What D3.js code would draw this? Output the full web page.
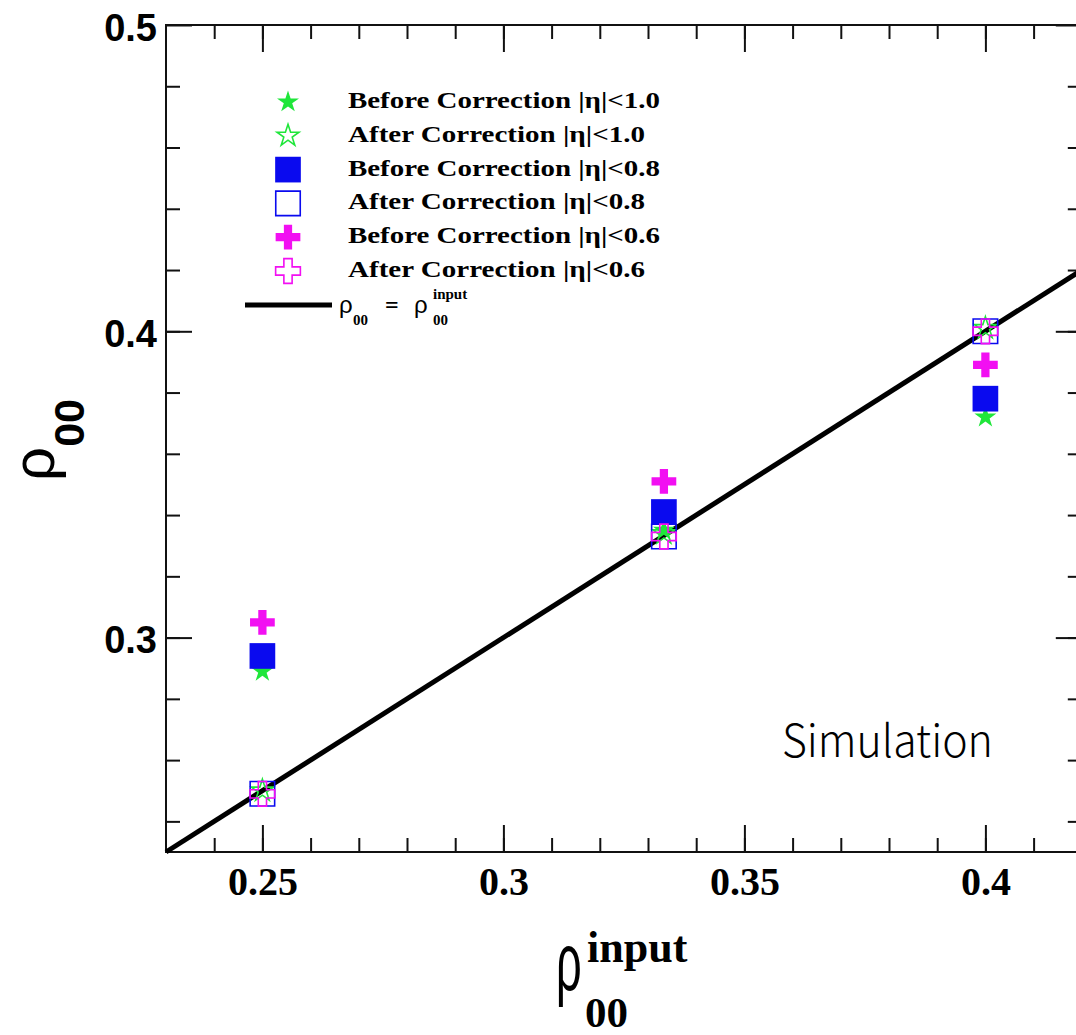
<!DOCTYPE html>
<html>
<head>
<meta charset="utf-8">
<script src="https://cdn.jsdelivr.net/npm/d3@7"></script>
<style>
  body { margin: 0; background: #fff; }
  svg { display: block; background: #fff; }
  .serif { font-family: 'Liberation Serif', 'Times New Roman', serif; font-weight: bold; }
  .sans { font-family: 'Liberation Sans', Arial, sans-serif; }
</style>
</head>
<body>
<svg id="chart" width="1076" height="1035"></svg>
<script>
// data
const inputRho = [0.25, 0.3333, 0.4];
const before10 = [0.289, 0.335, 0.372];
const after10 = [0.250, 0.334, 0.401];
const before08 = [0.294, 0.341, 0.378];
const after08 = [0.249, 0.333, 0.400];
const before06 = [0.305, 0.351, 0.389];
const after06 = [0.249, 0.333, 0.400];
const seriesLabels = [
  'Before Correction |η|<1.0',
  'After Correction |η|<1.0',
  'Before Correction |η|<0.8',
  'After Correction |η|<0.8',
  'Before Correction |η|<0.6',
  'After Correction |η|<0.6'
];
const xMajorTicks = [0.25, 0.3, 0.35, 0.4];
const yMajorTicks = [0.3, 0.4, 0.5];
const identityRange = [0.23, 0.42];

(function() {
  const svg = d3.select('#chart');
  const left = 166, top = 25, bottom = 852, right = 1081.8;

  const x = d3.scaleLinear().domain([0.23, 0.42]).range([left, right]);
  const y = d3.scaleLinear().domain([0.23, 0.5]).range([bottom, top]);

  const xMinor = d3.range(24, 42).map(d => d / 100);
  const yMinor = d3.range(12, 25).map(d => d / 50);

  const green = '#1fe63a', blue = '#0a0aef', magenta = '#f20ff2';
  const styles = [
    {values: before10, type: d3.symbolStar, size: 150, fill: green, stroke: 'none'},
    {values: after10, type: d3.symbolStar, size: 150, fill: 'none', stroke: green},
    {values: before08, type: d3.symbolSquare, size: 660, fill: blue, stroke: 'none'},
    {values: after08, type: d3.symbolSquare, size: 600, fill: 'none', stroke: blue},
    {values: before06, type: d3.symbolCross, size: 340, fill: magenta, stroke: 'none'},
    {values: after06, type: d3.symbolCross, size: 340, fill: 'none', stroke: magenta}
  ];

  // axes: ticks pointing inward on all four sides
  function styleAxis(g) {
    g.select('.domain').remove();
    g.selectAll('line').attr('stroke', '#111').attr('stroke-width', 2);
  }

  svg.append('g').attr('transform', 'translate(0,' + bottom + ')')
    .call(d3.axisBottom(x).tickValues(xMinor).tickSize(-14).tickFormat(''))
    .call(styleAxis);
  svg.append('g').attr('transform', 'translate(0,' + top + ')')
    .call(d3.axisTop(x).tickValues(xMinor).tickSize(-14).tickFormat(''))
    .call(styleAxis);
  svg.append('g').attr('transform', 'translate(' + left + ',0)')
    .call(d3.axisLeft(y).tickValues(yMinor).tickSize(-14).tickFormat(''))
    .call(styleAxis);
  svg.append('g').attr('transform', 'translate(' + right + ',0)')
    .call(d3.axisRight(y).tickValues(yMinor).tickSize(-14).tickFormat(''))
    .call(styleAxis);

  const xAxis = svg.append('g').attr('transform', 'translate(0,' + bottom + ')')
    .call(d3.axisBottom(x).tickValues(xMajorTicks).tickSize(-27).tickFormat(d3.format('.2~f')))
    .call(styleAxis);
  xAxis.selectAll('text')
    .attr('class', 'serif')
    .attr('y', 43).attr('dy', null)
    .attr('fill', '#000')
    .style('font-size', '40px');

  svg.append('g').attr('transform', 'translate(0,' + top + ')')
    .call(d3.axisTop(x).tickValues(xMajorTicks).tickSize(-27).tickFormat(''))
    .call(styleAxis);

  const yAxis = svg.append('g').attr('transform', 'translate(' + left + ',0)')
    .call(d3.axisLeft(y).tickValues(yMajorTicks).tickSize(-26).tickPadding(9).tickFormat(d3.format('.1f')))
    .call(styleAxis);
  yAxis.selectAll('text')
    .attr('class', 'sans')
    .attr('dy', '0.4em')
    .attr('fill', '#000')
    .style('font-size', '38px')
    .style('font-weight', 'bold');

  svg.append('g').attr('transform', 'translate(' + right + ',0)')
    .call(d3.axisRight(y).tickValues(yMajorTicks).tickSize(-26).tickFormat(''))
    .call(styleAxis);

  // frame
  svg.append('rect')
    .attr('x', left).attr('y', top)
    .attr('width', right - left).attr('height', bottom - top)
    .attr('fill', 'none').attr('stroke', '#111').attr('stroke-width', 2);

  // rho00 = rho00 input line
  svg.append('path')
    .datum(identityRange)
    .attr('d', d3.line().x(d => x(d)).y(d => y(d)))
    .attr('stroke', '#000').attr('stroke-width', 5).attr('fill', 'none');

  // points
  styles.forEach(s => {
    svg.append('g').selectAll('path')
      .data(s.values)
      .enter()
      .append('path')
      .attr('transform', (d, i) => 'translate(' + x(inputRho[i]) + ',' + y(d) + ')')
      .attr('d', d3.symbol().type(s.type).size(s.size))
      .attr('fill', s.fill)
      .attr('stroke', s.stroke)
      .attr('stroke-width', 1.6);
  });

  // legend
  const rowY = i => 102 + i * 33.8;
  const legend = svg.append('g');
  styles.forEach((s, i) => {
    legend.append('path')
      .attr('transform', 'translate(288,' + rowY(i) + ')')
      .attr('d', d3.symbol().type(s.type).size(s.size))
      .attr('fill', s.fill)
      .attr('stroke', s.stroke)
      .attr('stroke-width', 1.6);
    legend.append('text')
      .attr('class', 'serif')
      .attr('x', 348).attr('y', rowY(i) + 6)
      .attr('textLength', i % 2 ? 297 : 312)
      .attr('lengthAdjust', 'spacingAndGlyphs')
      .style('font-size', '23px')
      .text(seriesLabels[i]);
  });
  legend.append('line')
    .attr('x1', 245).attr('x2', 332)
    .attr('y1', 305).attr('y2', 305)
    .attr('stroke', '#000').attr('stroke-width', 5);
  legend.append('text').attr('class', 'sans').attr('x', 339).attr('y', 313)
    .style('font-size', '24px').text('ρ');
  legend.append('text').attr('class', 'serif').attr('x', 353).attr('y', 325)
    .style('font-size', '15px').text('00');
  legend.append('text').attr('class', 'serif').attr('x', 385).attr('y', 313)
    .style('font-size', '24px').text('=');
  legend.append('text').attr('class', 'sans').attr('x', 414).attr('y', 313)
    .style('font-size', '24px').text('ρ');
  legend.append('text').attr('class', 'serif').attr('x', 433).attr('y', 299)
    .style('font-size', '15px').text('input');
  legend.append('text').attr('class', 'serif').attr('x', 433).attr('y', 325)
    .style('font-size', '15px').text('00');

  // y title
  const yTitle = svg.append('text')
    .attr('transform', 'translate(54,481) rotate(-90)');
  yTitle.append('tspan').attr('class', 'sans').style('font-size', '60px').text('ρ');
  yTitle.append('tspan').attr('class', 'sans').attr('dy', 30)
    .style('font-size', '43px').style('font-weight', 'bold').text('00');

  // x title
  svg.append('text')
    .attr('class', 'sans')
    .attr('transform', 'translate(556,990) scale(0.55,1)')
    .style('font-size', '82px')
    .text('ρ');
  svg.append('text').attr('class', 'serif').attr('x', 587).attr('y', 962)
    .style('font-size', '44px').text('input');
  svg.append('text').attr('class', 'serif').attr('x', 585).attr('y', 1027)
    .style('font-size', '43px').text('00');

  // annotation
  svg.append('text')
    .attr('x', 782).attr('y', 757)
    .attr('textLength', 211)
    .attr('lengthAdjust', 'spacingAndGlyphs')
    .style('font-family', "'Noto Sans CJK SC', 'Noto Sans', sans-serif")
    .style('font-weight', 300)
    .style('font-size', '45px')
    .attr('fill', '#000')
    .text('Simulation');
})();
</script>
</body>
</html>
